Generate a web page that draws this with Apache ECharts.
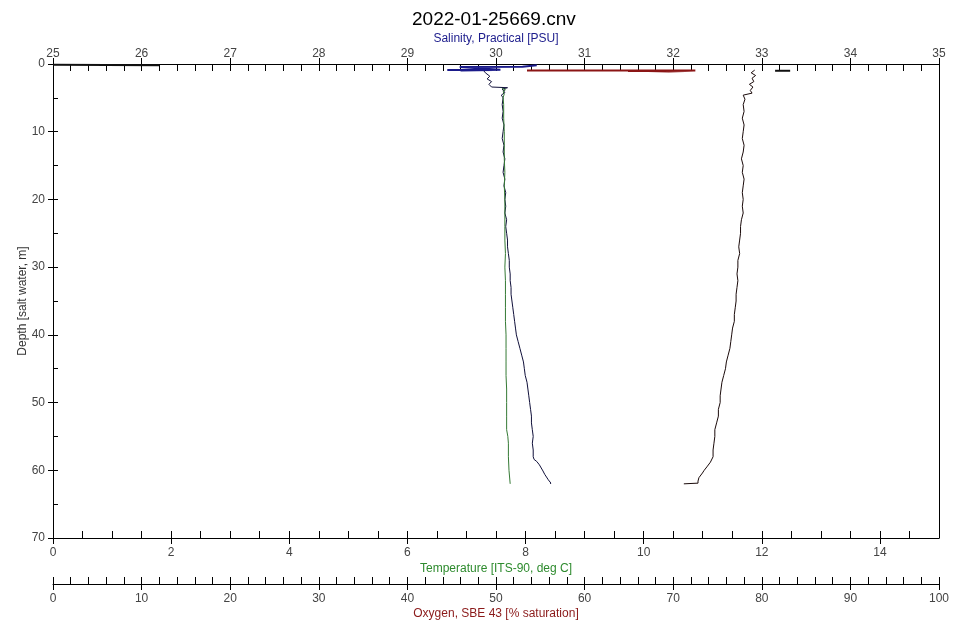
<!DOCTYPE html>
<html>
<head>
<meta charset="utf-8">
<script src="https://cdn.jsdelivr.net/npm/echarts@6/dist/echarts.min.js"></script>
<style>html,body{margin:0;padding:0;background:#fff}#chart{width:967px;height:624px}</style>
</head>
<body>
<div id="chart"></div>
<script>
// ---- data: [value, depth] ----
const salinityProfile = [[29.85,0.8],[29.88,1.3],[29.93,1.8],[29.90,2.2],[29.95,2.6],[29.92,3.0],[29.95,3.4],[30.13,3.5],[30.07,3.7],[30.10,4.2],[30.06,4.6],[30.08,5.0],[30.07,6],[30.08,7],[30.07,8],[30.09,9],[30.08,10],[30.07,11],[30.09,12],[30.08,13],[30.10,14],[30.09,15],[30.08,16],[30.10,17],[30.09,18],[30.11,19],[30.10,20],[30.11,21],[30.10,22],[30.12,23],[30.11,24],[30.12,25],[30.13,26],[30.13,27],[30.14,28],[30.15,29],[30.15,30],[30.16,31],[30.16,32],[30.17,33],[30.17,34],[30.18,35],[30.19,36],[30.20,37],[30.21,38],[30.22,39],[30.23,40],[30.25,41],[30.27,42],[30.29,43],[30.31,44],[30.32,45],[30.33,46],[30.35,47],[30.36,48],[30.37,49],[30.38,50],[30.39,51],[30.40,52],[30.40,53],[30.41,54],[30.42,55],[30.41,56],[30.42,57],[30.42,58],[30.43,58.4],[30.46,58.7],[30.49,59.2],[30.53,60.1],[30.55,60.6],[30.57,61.0],[30.59,61.4],[30.62,61.9],[30.61,62.0]];
const temperatureProfile = [[7.60,3.6],[7.66,3.8],[7.62,4.1],[7.64,4.4],[7.62,5],[7.63,6],[7.63,8],[7.64,10],[7.64,12],[7.64,14],[7.65,16],[7.64,18],[7.65,20],[7.65,22],[7.65,24],[7.65,26],[7.66,28],[7.65,30],[7.66,32],[7.66,34],[7.66,36],[7.66,38],[7.67,40],[7.67,42],[7.67,44],[7.67,46],[7.68,48],[7.68,50],[7.68,52],[7.68,54],[7.70,55],[7.71,56],[7.71,58],[7.72,60],[7.74,62]];
const oxygenProfile = [[79.2,0.9],[78.8,1.3],[79.3,1.7],[78.9,2.1],[79.1,2.6],[78.6,3.0],[79.0,3.4],[78.7,3.9],[78.9,4.3],[77.9,4.6],[78.1,5.2],[77.9,6],[78.0,7],[77.8,8],[78.0,9],[77.9,10],[77.8,11],[78.0,12],[77.9,13],[77.7,14],[77.9,15],[77.8,16],[78.0,17],[77.9,18],[77.8,19],[77.9,20],[77.8,21],[77.9,22],[77.7,23],[77.6,24],[77.6,25],[77.5,26],[77.4,27],[77.5,28],[77.3,29],[77.3,30],[77.2,31],[77.3,32],[77.2,33],[77.1,34],[77.1,35],[77.0,36],[76.9,37],[76.9,38],[76.7,39],[76.6,40],[76.5,41],[76.4,42],[76.2,43],[76.0,44],[75.9,45],[75.7,46],[75.5,47],[75.4,48],[75.3,49],[75.3,50],[75.1,51],[75.1,52],[74.9,53],[74.7,54],[74.7,55],[74.6,56],[74.5,57],[74.5,58],[74.2,58.8],[73.8,59.5],[73.5,60.0],[73.3,60.4],[72.9,61.1],[72.8,61.6],[72.8,61.9],[71.2,62.0]];
const salinitySurface = [[29.45,0.9],[29.97,0.9],[29.60,0.95],[30.05,0.85],[29.59,0.45],[30.30,0.4],[30.46,0.2]];
const oxygenSurface = [[53.5,0.95],[72.5,0.95],[64.9,1.05],[66.0,1.0],[69.5,1.1],[72.3,1.0]];
const surfaceBitsA = [[25.0,0.1],[26.2,0.2]];
const surfaceBitsB = [[33.15,1.0],[33.32,1.0]];

// ---- axis ticks ----
const salinityRange = [25, 35];
const temperatureRange = [0, 15];
const oxygenRange = [0, 100];
const depthRange = [0, 70];
const temperatureMajorTicks = [0, 2, 4, 6, 8, 10, 12, 14];

const FONT = 'Liberation Sans, Arial, sans-serif';
const LBL = '#444';
const AX = '#000';

function majorAxis(pos, range, interval, name, nameColor, nameGap, offset, margin) {
  return {
    type: 'value', position: pos, min: range[0], max: range[1], interval: interval, offset: offset,
    name: name, nameLocation: 'middle', nameGap: nameGap, nameMoveOverlap: false,
    nameTextStyle: {color: nameColor, fontSize: 12, fontFamily: FONT},
    axisLine: {show: true, onZero: false, lineStyle: {color: AX, width: 1}},
    axisTick: {show: true, inside: false, length: 6, lineStyle: {color: AX}},
    axisLabel: {show: true, color: LBL, fontSize: 12, fontFamily: FONT, margin: margin},
    splitLine: {show: false}
  };
}
function innerAxis(pos, range, interval, offset) {
  return {
    type: 'value', position: pos, min: range[0], max: range[1], interval: interval, offset: offset,
    axisLine: {show: false, onZero: false},
    axisTick: {show: true, inside: true, length: 7, lineStyle: {color: AX}},
    axisLabel: {show: false}, splitLine: {show: false}
  };
}

const tempAxis = majorAxis('bottom', temperatureRange, 2, 'Temperature [ITS-90, deg C]', '#2e8b2e', 25, 0, 9);
tempAxis.axisTick.customValues = temperatureMajorTicks;
tempAxis.axisLabel.customValues = temperatureMajorTicks;

const option = {
  animation: false,
  backgroundColor: '#fff',
  title: {
    text: '2022-01-25669.cnv', left: 407, top: 5,
    textStyle: {fontSize: 19, fontWeight: 'normal', color: '#000', fontFamily: FONT}
  },
  grid: {left: 53, right: 28, top: 64, bottom: 86, containLabel: false, outerBoundsMode: 'none'},
  xAxis: [
    majorAxis('top', salinityRange, 1, 'Salinity, Practical [PSU]', '#1c1c8c', 19, 0, 4),
    innerAxis('top', salinityRange, 0.2, 0),
    tempAxis,
    innerAxis('bottom', temperatureRange, 0.5, 0),
    majorAxis('bottom', oxygenRange, 10, 'Oxygen, SBE 43 [% saturation]', '#8b1a1a', 24, 46, 9),
    innerAxis('bottom', oxygenRange, 2, 46)
  ],
  yAxis: [
    {
      type: 'value', inverse: true, min: depthRange[0], max: depthRange[1], interval: 10, position: 'left',
      name: 'Depth [salt water, m]', nameLocation: 'middle', nameGap: 24, nameMoveOverlap: false,
      nameTextStyle: {color: '#333', fontSize: 12, fontFamily: FONT},
      axisLine: {show: true, onZero: false, lineStyle: {color: AX}},
      axisTick: {show: true, inside: false, length: 5, lineStyle: {color: AX}},
      axisLabel: {color: LBL, fontSize: 12, fontFamily: FONT, margin: 8},
      splitLine: {show: false}
    },
    {
      type: 'value', inverse: true, min: depthRange[0], max: depthRange[1], interval: 5, position: 'left',
      axisLine: {show: false}, axisTick: {show: true, inside: true, length: 5, lineStyle: {color: AX}},
      axisLabel: {show: false}, splitLine: {show: false}
    },
    {
      type: 'value', inverse: true, min: depthRange[0], max: depthRange[1], position: 'right',
      axisLine: {show: true, onZero: false, lineStyle: {color: AX}}, axisTick: {show: false},
      axisLabel: {show: false}, splitLine: {show: false}
    }
  ],
  series: [
    {type: 'line', name: 'Salinity', xAxisIndex: 0, yAxisIndex: 0, data: salinityProfile, symbol: 'none',
     lineStyle: {color: '#10103a', width: 1}},
    {type: 'line', name: 'Temperature', xAxisIndex: 2, yAxisIndex: 0, data: temperatureProfile, symbol: 'none',
     lineStyle: {color: '#357a35', width: 1}},
    {type: 'line', name: 'Oxygen', xAxisIndex: 4, yAxisIndex: 0, data: oxygenProfile, symbol: 'none',
     lineStyle: {color: '#1a0a0a', width: 1}},
    {type: 'line', name: 'SalSurface', xAxisIndex: 0, yAxisIndex: 0, data: salinitySurface, symbol: 'none',
     lineStyle: {color: '#1a1a8a', width: 2}},
    {type: 'line', name: 'OxSurface', xAxisIndex: 4, yAxisIndex: 0, data: oxygenSurface, symbol: 'none',
     lineStyle: {color: '#8b1515', width: 2}},
    {type: 'line', name: 'BitsA', xAxisIndex: 0, yAxisIndex: 0, data: surfaceBitsA, symbol: 'none',
     lineStyle: {color: '#111', width: 2}},
    {type: 'line', name: 'BitsB', xAxisIndex: 0, yAxisIndex: 0, data: surfaceBitsB, symbol: 'none',
     lineStyle: {color: '#111', width: 2}}
  ]
};
const chart = echarts.init(document.getElementById('chart'), null, {renderer: 'canvas'});
chart.setOption(option);
</script>
</body>
</html>
